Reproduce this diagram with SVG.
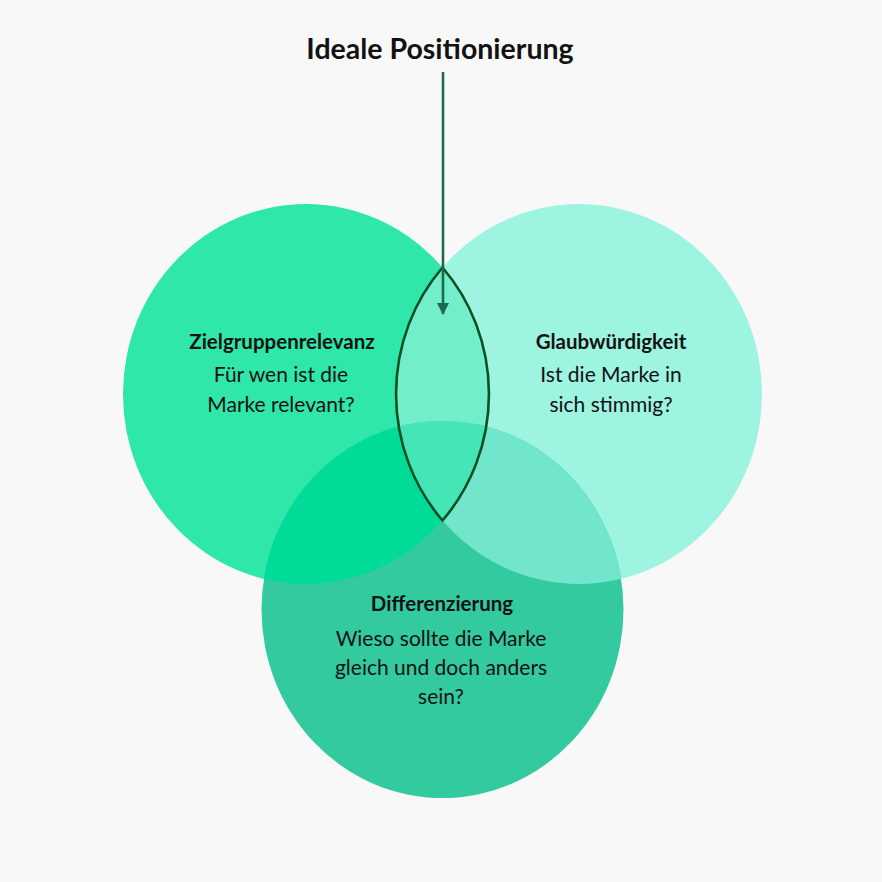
<svg xmlns="http://www.w3.org/2000/svg" width="882" height="882" viewBox="0 0 882 882">
  <defs>
    <style>
      .t { font-family: Lato, "Liberation Sans", sans-serif; fill: #121212; text-anchor: middle; }
      .title { font-size: 28.5px; font-weight: 700; }
      .head { font-size: 20.5px; font-weight: 700; }
      .body { font-size: 21px; font-weight: 400; }
      .lens { fill: none; stroke: #0E4F24; stroke-width: 2.6; stroke-linejoin: miter; }
      .arrow { stroke: #1C6A4C; stroke-width: 2.6; fill: none; }
    </style>
    <clipPath id="clipL"><ellipse cx="306" cy="394" rx="183" ry="190"/></clipPath>
    <clipPath id="clipR"><ellipse cx="579" cy="394" rx="183" ry="190"/></clipPath>
    <marker id="ah" viewBox="0 0 12 12" refX="11" refY="6" markerWidth="12" markerHeight="12" markerUnits="userSpaceOnUse" orient="auto">
      <path d="M0,0 L12,6 L0,12 Z" fill="#1C6A4C"/>
    </marker>
  </defs>
  <rect width="882" height="882" fill="#F8F8F8"/>

  <g id="circle-left">
    <ellipse cx="306" cy="394" rx="183" ry="190" fill="#2EE7A8"/>
  </g>
  <g id="circle-right">
    <ellipse cx="579" cy="394" rx="183" ry="190" fill="#9DF4E0"/>
  </g>
  <g id="circle-bottom">
    <ellipse cx="442.5" cy="609.5" rx="181" ry="188.5" fill="#33CAA0"/>
  </g>
  <g id="overlaps">
    <ellipse cx="579" cy="394" rx="183" ry="190" fill="#72EFCA" clip-path="url(#clipL)"/>
    <ellipse cx="442.5" cy="609.5" rx="181" ry="188.5" fill="#00DC98" clip-path="url(#clipL)"/>
    <ellipse cx="442.5" cy="609.5" rx="181" ry="188.5" fill="#72E6CC" clip-path="url(#clipR)"/>
    <g clip-path="url(#clipL)">
      <ellipse cx="442.5" cy="609.5" rx="181" ry="188.5" fill="#44E6B7" clip-path="url(#clipR)"/>
    </g>
  </g>

  <g id="lens">
    <path class="lens" d="M442.5,267.5 A183,190 0 0 1 442.5,520.5 A183,190 0 0 1 442.5,267.5 Z"/>
  </g>

  <g id="connectors">
    <line class="arrow" x1="443" y1="72" x2="443" y2="314" marker-end="url(#ah)"/>
  </g>

  <g id="title">
    <text class="t title" x="440" y="59">Ideale Positionierung</text>
  </g>
  <g id="label-left">
    <text class="t head" x="282" y="349">Zielgruppenrelevanz</text>
    <text class="t body" x="281" y="382">Für wen ist die</text>
    <text class="t body" x="281" y="412">Marke relevant?</text>
  </g>
  <g id="label-right">
    <text class="t head" x="611" y="349">Glaubwürdigkeit</text>
    <text class="t body" x="611" y="382">Ist die Marke in</text>
    <text class="t body" x="611" y="412">sich stimmig?</text>
  </g>
  <g id="label-bottom">
    <text class="t head" x="442" y="611">Differenzierung</text>
    <text class="t body" x="441" y="646">Wieso sollte die Marke</text>
    <text class="t body" x="441" y="675">gleich und doch anders</text>
    <text class="t body" x="441" y="704">sein?</text>
  </g>
</svg>
